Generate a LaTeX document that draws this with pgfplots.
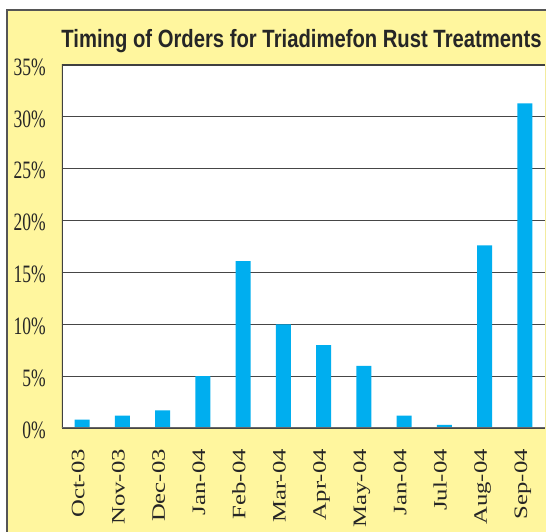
\documentclass[border=0pt]{standalone}
\usepackage{pgfplots}
\pgfplotsset{compat=1.18}
\usepackage{fontspec}
\setmainfont{Liberation Serif}
\newfontfamily\titlefont{Liberation Sans}[FakeStretch=0.81]
\newfontfamily\ytfont{Liberation Serif}[FakeStretch=0.7]
\newfontfamily\xtfont{Liberation Serif}[FakeStretch=1.3]
\definecolor{bgyellow}{RGB}{255,246,158}
\definecolor{barblue}{RGB}{0,174,239}
\definecolor{framegray}{RGB}{85,85,85}
\definecolor{gridgray}{RGB}{70,70,70}
\begin{document}
\begin{tikzpicture}[x=1pt,y=1pt]
\useasboundingbox (0,0) rectangle (546,532);
\fill[white] (0,0) rectangle (546,532);
\fill[bgyellow] (7,0) rectangle (546,522);
\draw[framegray, line width=1.5pt] (7,0) -- (7,522) -- (547,522);
\node[anchor=base, text=black!85, inner sep=0pt] at (301.5,484)
  {\titlefont\bfseries\fontsize{25}{25}\selectfont Timing of Orders for Triadimefon Rust Treatments};
\begin{axis}[
  at={(62pt,104pt)}, anchor=south west,
  scale only axis, width=483pt, height=363pt,
  xmin=-0.5, xmax=11.5, ymin=0, ymax=35,
  ybar, bar width=15pt,
  axis background/.style={fill=white},
  axis line style={draw=none},
  major tick length=0pt,
  ytick={0,5,10,15,20,25,30,35},
  yticklabels={0\%,5\%,10\%,15\%,20\%,25\%,30\%,35\%},
  yticklabel style={font=\ytfont\fontsize{25}{25}\selectfont, text=black!85, anchor=east, inner sep=0pt, xshift=-16pt, yshift=-2pt},
  xtick={0,1,2,3,4,5,6,7,8,9,10,11},
  xticklabels={Oct-03,Nov-03,Dec-03,Jan-04,Feb-04,Mar-04,Apr-04,May-04,Jan-04,Jul-04,Aug-04,Sep-04},
  xticklabel style={font=\xtfont\fontsize{19}{19}\selectfont, text=black!85, rotate=90, anchor=mid east, inner ysep=0pt, inner xsep=21pt},
  ymajorgrids, grid style={gridgray, line width=1.1pt},
]
\addplot[fill=barblue, draw=none] coordinates {
  (0,0.8) (1,1.2) (2,1.7) (3,5.0) (4,16.1) (5,10.0)
  (6,8.0) (7,6.0) (8,1.2) (9,0.3) (10,17.6) (11,31.3)
};
\draw[black!75, line width=1.1pt] (rel axis cs:0,0) -- (rel axis cs:0,1) -- (rel axis cs:1,1);
\draw[black!60, line width=1.1pt] (rel axis cs:0,0) -- (rel axis cs:1,0);
\draw[black!35, line width=1pt] (rel axis cs:1,0) -- (rel axis cs:1,1);
\end{axis}
\end{tikzpicture}
\end{document}
